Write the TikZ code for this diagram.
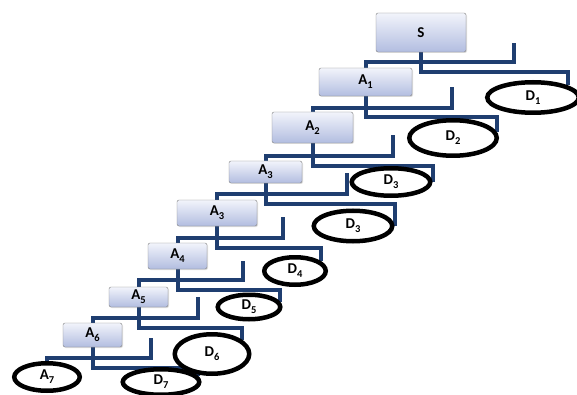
\documentclass[tikz,border=0pt]{standalone}
\usepackage{fontspec}
\setmainfont{Carlito}
\usetikzlibrary{shapes.geometric,shadows,backgrounds}
\definecolor{linkblue}{RGB}{31,62,112}
\definecolor{boxtop}{RGB}{242,244,251}
\definecolor{boxbottom}{RGB}{178,189,224}
\newcommand{\lowsub}[1]{\raisebox{-0.27em}{\fontsize{10.5}{12}\selectfont #1}}

\begin{document}
\begin{tikzpicture}[x=1pt, y=-1pt,
	box/.style={draw=gray, rounded corners=2pt, top color=boxtop, bottom color=boxbottom,
		inner sep=0pt, drop shadow={opacity=0.25, shadow xshift=1pt, shadow yshift=-1pt},
		font=\fontsize{15}{17}\selectfont\bfseries},
	leaf/.style={ellipse, draw, line width=4.5pt, fill=white, inner sep=0pt,
		font=\fontsize{15}{17}\selectfont\bfseries},
	link/.style={draw=linkblue, line width=4pt}]
  	\useasboundingbox (0,0) rectangle (577,395);

  	\node[box, minimum width=90, minimum height=39] (S) at (421,32.5) {S};
  	\node[box, minimum width=93, minimum height=28] (A1) at (365.5,82) {A\lowsub{1}};
  	\node[box, minimum width=81, minimum height=31] (A2) at (312.5,127.5) {A\lowsub{2}};
  	\node[box, minimum width=73, minimum height=22] (A3) at (265.5,172) {A\lowsub{3}};
  	\node[box, minimum width=80, minimum height=26] (A3b) at (217,213) {A\lowsub{3}};
  	\node[box, minimum width=59, minimum height=26] (A4) at (177.5,256) {A\lowsub{4}};
  	\node[box, minimum width=59, minimum height=20] (A5) at (138.5,297) {A\lowsub{5}};
  	\node[box, minimum width=59, minimum height=24] (A6) at (92.5,335) {A\lowsub{6}};
  	\node[leaf, minimum width=65.5, minimum height=27.5] (A7) at (47,377) {A\lowsub{7}};

  	\node[leaf, minimum width=91.5, minimum height=30.5] (D1) at (533,97.5) {D\lowsub{1}};
  	\node[leaf, minimum width=87.5, minimum height=35.5] (D2) at (453,138) {D\lowsub{2}};
  	\node[leaf, minimum width=78.5, minimum height=27.5] (D3) at (391,182) {D\lowsub{3}};
  	\node[leaf, minimum width=78.5, minimum height=30.5] (D3b) at (353,226) {D\lowsub{3}};
  	\node[leaf, minimum width=61.5, minimum height=27.5] (D4) at (295,271) {D\lowsub{4}};
  	\node[leaf, minimum width=62.5, minimum height=24.5] (D5) at (249,307) {D\lowsub{5}};
  	\node[leaf, minimum width=74.5, minimum height=39.5] (D6) at (212,354) {D\lowsub{6}};
  	\node[leaf, minimum width=76.5, minimum height=25.5] (D7) at (161,382) {D\lowsub{7}};

  	\coordinate (S-tick) at (514,43);
  	\coordinate (A1-tick) at (452,87);
  	\coordinate (A2-tick) at (393,135);
  	\coordinate (A3-tick) at (347,173);
  	\coordinate (A3b-tick) at (283,217);
  	\coordinate (A4-tick) at (243,261);
  	\coordinate (A5-tick) at (198,297);
  	\coordinate (A6-tick) at (151,338);

  	\begin{scope}[on background layer]
  	\draw[link] (S.south) -- ++(0,20) -| (D1.19);
  	\draw[link] (A1.south) -- ++(0,21) -| (D2.8);
  	\draw[link] (A2.south) -- ++(0,23) -| (D3.east);
  	\draw[link] (A3.south) -- ++(0,21) -| (D3b.east);
  	\draw[link] (A3b.south) -- ++(0,22) -| (D4.20);
  	\draw[link] (A4.south) -- ++(0,21) -| (D5.10);
  	\draw[link] (A5.south) -- ++(0,21) -| (D6.25);
  	\draw[link] (A6.south) -- ++(0,21) -| (D7.10);

  	\draw[link] (A1.north) -- ++(0,-6) -| (S-tick);
  	\draw[link] (A2.north) -- ++(0,-4) -| (A1-tick);
  	\draw[link] (A3.north) -- ++(0,-5) -| (A2-tick);
  	\draw[link] (A3b.north) -- ++(0,-6) -| (A3-tick);
  	\draw[link] (A4.north) -- ++(0,-5) -| (A3b-tick);
  	\draw[link] (A5.north) -- ++(0,-7) -| (A4-tick);
  	\draw[link] (A6.north) -- ++(0,-5) -| (A5-tick);
  	\draw[link] (A7.north) -- ++(0,-3) -| (A6-tick);
  	\end{scope}
\end{tikzpicture}
\end{document}
